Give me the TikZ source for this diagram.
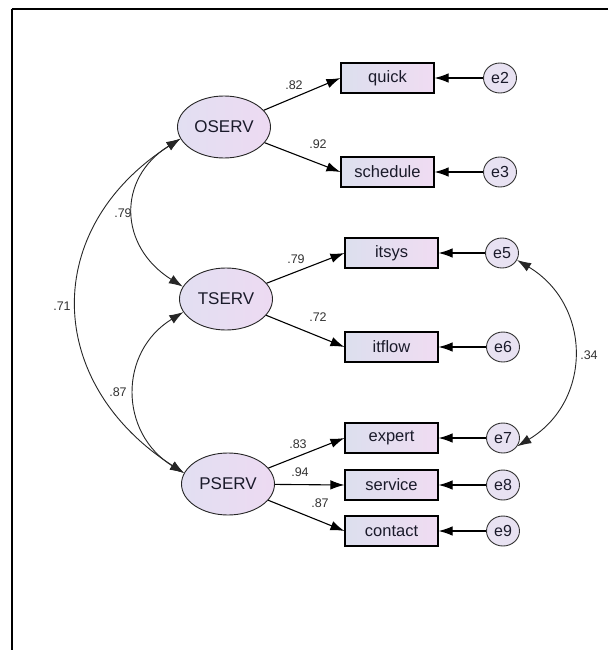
\documentclass[tikz,border=0pt]{standalone}
\usepackage{fontspec}
\setmainfont{Liberation Sans}
\usetikzlibrary{arrows.meta,shapes.geometric}
\definecolor{latL}{HTML}{E2DFF2}
\definecolor{latR}{HTML}{EDDAF2}
\definecolor{obsL}{HTML}{DCDFEE}
\definecolor{obsR}{HTML}{F0DCF2}
\definecolor{errF}{HTML}{E8E2F2}
\definecolor{txt}{HTML}{1A1A2A}
\definecolor{lbl}{HTML}{333333}
\tikzset{
  lat/.style={ellipse, draw=black!85, line width=0.9pt, minimum width=93pt, minimum height=62pt,
    left color=latL, right color=latR, text=txt, inner sep=0pt, font=\fontsize{17}{17}\selectfont},
  obs/.style={rectangle, draw=black, line width=1.1pt, minimum width=93pt, minimum height=30pt,
    left color=obsL, right color=obsR, text=txt, inner sep=0pt, font=\fontsize{16.5}{16.5}\selectfont},
  err/.style={ellipse, draw=black!80, line width=0.9pt, minimum width=33pt, minimum height=30pt,
    fill=errF, text=txt, inner sep=0pt, font=\fontsize{16}{16}\selectfont},
  ld/.style={-{Latex[length=14pt,width=9.5pt]}, line width=1.1pt, black},
  ea/.style={-{Latex[length=14pt,width=9.5pt]}, line width=1.1pt, draw=black!65, color=black},
  cv/.style={{Latex[length=14pt,width=9.5pt]}-{Latex[length=14pt,width=9.5pt]}, line width=0.9pt, black!85},
  lb/.style={text=lbl, inner sep=0pt, font=\fontsize{12.5}{12.5}\selectfont}
}
\begin{document}
\begin{tikzpicture}[x=1pt,y=-1pt]
\useasboundingbox (0,0) rectangle (608,650);
\fill[white] (0,0) rectangle (608,650);
% frame
\draw[line width=2.5pt,black] (11.5,9) -- (608,9);
\draw[line width=2pt,black] (11.5,9) -- (11.5,650);

% latent variables
\node[lat] (OSERV) at (224,127) {OSERV};
\node[lat] (TSERV) at (226,299) {TSERV};
\node[lat] (PSERV) at (228,484) {PSERV};

% observed variables
\node[obs] (quick) at (387.5,78) {quick};
\node[obs] (schedule) at (387.5,172) {schedule};
\node[obs] (itsys) at (391.5,253) {itsys};
\node[obs] (itflow) at (391.5,347) {itflow};
\node[obs] (expert) at (391.5,438) {expert};
\node[obs] (service) at (391.5,485) {service};
\node[obs] (contact) at (391.5,531) {contact};

% errors
\node[err] (e2) at (500,78) {e2};
\node[err] (e3) at (500,172) {e3};
\node[err] (e5) at (502,253) {e5};
\node[err] (e6) at (503,347) {e6};
\node[err] (e7) at (503,438) {e7};
\node[err] (e8) at (503,485) {e8};
\node[err] (e9) at (503,531) {e9};

% loadings
\draw[ld] (OSERV) -- (quick.west);
\draw[ld] (OSERV) -- (schedule.west);
\draw[ld] (TSERV) -- (itsys.west);
\draw[ld] (TSERV) -- (itflow.west);
\draw[ld] (PSERV) -- (expert.west);
\draw[ld] (PSERV) -- (service.west);
\draw[ld] (PSERV) -- (contact.west);

% error paths
\draw[ea] (e2) -- (quick);
\draw[ea] (e3) -- (schedule);
\draw[ea] (e5) -- (itsys);
\draw[ea] (e6) -- (itflow);
\draw[ea] (e7) -- (expert);
\draw[ea] (e8) -- (service);
\draw[ea] (e9) -- (contact);

% covariances
\draw[cv] (OSERV.195) .. controls +(-64,40) and +(-64,-40) .. (TSERV.164);
\draw[cv] (TSERV.197) .. controls +(-65,40) and +(-65,-40) .. (PSERV.166);
\draw[cv] (OSERV.195) .. controls +(-140,90) and +(-140,-90) .. (PSERV.166);
\draw[cv] (e5.-25) .. controls +(75,45) and +(75,-45) .. (e7.-30);

% labels
\node[lb] (l82) at (294,85) {.82};
\node[lb] (l92) at (318,144) {.92};
\node[lb] (l79b) at (296,259) {.79};
\node[lb] (l72) at (318,317) {.72};
\node[lb] (l83) at (298,444) {.83};
\node[lb] (l94) at (300,472) {.94};
\node[lb] (l87b) at (320,503) {.87};
\node[lb] (l79) at (123,213) {.79};
\node[lb] (l71) at (62,306) {.71};
\node[lb] (l87) at (118,392) {.87};
\node[lb] (l34) at (589,355) {.34};
\end{tikzpicture}
\end{document}
